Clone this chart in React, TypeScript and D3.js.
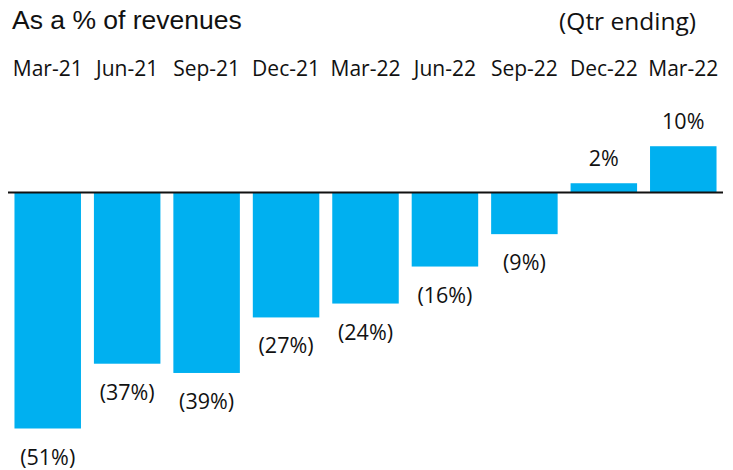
import React from "react";
import * as d3 from "d3";

const categories = ["Mar-21", "Jun-21", "Sep-21", "Dec-21", "Mar-22", "Jun-22", "Sep-22", "Dec-22", "Mar-22 "];
const values = [-51, -37, -39, -27, -24, -16, -9, 2, 10];
const valueLabels = ["(51%)", "(37%)", "(39%)", "(27%)", "(24%)", "(16%)", "(9%)", "2%", "10%"];
const title = "As a % of revenues";
const subtitle = "(Qtr ending)";

const W = 733;
const H = 470;
const BAR_COLOR = "#00B0F0";
const CAL = "'Open Sans', Lato, sans-serif";

export default function App() {
  const x = d3.scaleBand<string>().domain(categories).range([8, 723]).paddingInner(0.163).paddingOuter(0.0815);
  const y = d3.scaleLinear().domain([0, -51]).range([192.5, 428.5]);
  const y0 = y(0);

  return (
    <svg width={W} height={H} style={{ position: "absolute", left: 0, top: 0, background: "#fff" }}>
      <text x={12} y={29} fontFamily="'Liberation Sans', Arial, sans-serif" fontSize={26.5} fill="#111">{title}</text>
      <text x={696} y={30} textAnchor="end" fontFamily={CAL} fontSize={24.5} fill="#111">{subtitle}</text>
      {categories.map((c) => (
        <text key={"c" + c} x={(x(c) as number) + x.bandwidth() / 2} y={76} textAnchor="middle" fontFamily={CAL} fontSize={21} fill="#111">{c.trim()}</text>
      ))}
      {categories.map((c, i) => {
        const v = values[i];
        const top = Math.min(y(v), y0);
        const h = Math.abs(y(v) - y0);
        return <rect key={"b" + c} x={x(c) as number} y={top} width={x.bandwidth()} height={h} fill={BAR_COLOR} />;
      })}
      {categories.map((c, i) => {
        const v = values[i];
        const ly = v >= 0 ? y(v) - 17 : y(v) + 36;
        return (
          <text key={"l" + c} x={(x(c) as number) + x.bandwidth() / 2} y={ly} textAnchor="middle" fontFamily={CAL} fontSize={21.5} fill="#111">{valueLabels[i]}</text>
        );
      })}
      <line x1={8} x2={723} y1={y0} y2={y0} stroke="#111" strokeWidth={2} />
    </svg>
  );
}
